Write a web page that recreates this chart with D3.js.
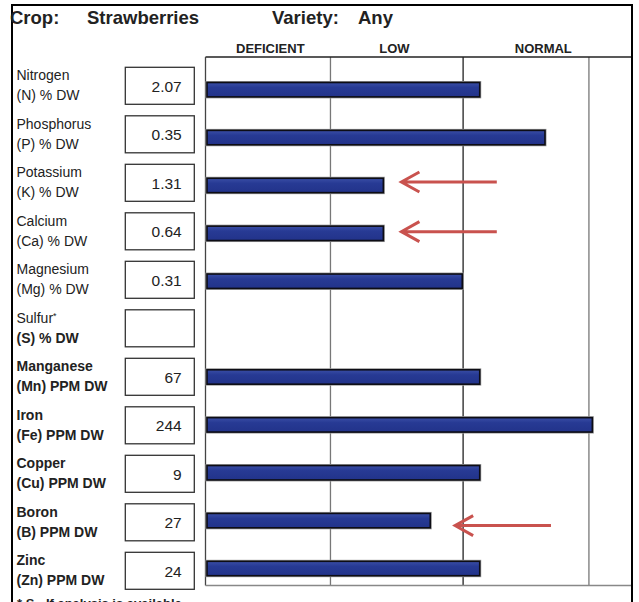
<!DOCTYPE html>
<html><head><meta charset="utf-8">
<script src="https://cdn.jsdelivr.net/npm/d3@7"></script>
<style>body{margin:0;background:#fff}svg{display:block;font-family:"Liberation Sans",Arial,sans-serif}</style>
</head><body><svg id="c" width="639" height="602"></svg>
<script>
const crop = "Strawberries";
const variety = "Any";
const elements = ["Nitrogen","Phosphorus","Potassium","Calcium","Magnesium","Sulfur*","Manganese","Iron","Copper","Boron","Zinc"];
const units = ["(N) % DW","(P) % DW","(K) % DW","(Ca) % DW","(Mg) % DW","(S) % DW","(Mn) PPM DW","(Fe) PPM DW","(Cu) PPM DW","(B) PPM DW","(Zn) PPM DW"];
const values = ["2.07","0.35","1.31","0.64","0.31","","67","244","9","27","24"];
const indexValues = [64.3,79.6,41.7,41.7,60.2,null,64.3,90.7,64.3,52.7,64.3];
const zones = ["DEFICIENT","LOW","NORMAL"];
const zoneCenters = [15.2,44.3,79.2];
const gridValues = [29.3,60.4,89.9];
const arrowRows = ["Potassium","Calcium","Boron"];
const arrowTip = [45.7,45.7,58.3];
const arrowTail = [68.3,68.3,81.0];
const arrowDy = [-3.5,-1.7,5];
const footnote = "* S - If analysis is available";

const svg = d3.select("#c");
const L = {left:12,right:632,top:5,bottom:602,plotL:205.5,plotT:57,plotB:585.5};
const x = d3.scaleLinear().domain([0,100]).range([L.plotL, L.right]);
const yBar = d3.scalePoint().domain(elements).range([89.7, 568.5]);
const yBox = d3.scalePoint().domain(elements).range([67.3, 552.3]);
const boxL = 125.3, boxW = 69, boxH = 37;

svg.append("rect").attr("width",639).attr("height",602).attr("fill","#fff");

// grid lines
svg.append("g").selectAll("line").data(gridValues).join("line")
  .attr("x1",d=>x(d)).attr("x2",d=>x(d)).attr("y1",L.plotT).attr("y2",L.plotB)
  .attr("stroke",(d,i)=>i===1?"#222":"#777").attr("stroke-width",1.3);
// plot frame
svg.append("line").attr("x1",L.plotL).attr("x2",L.right).attr("y1",L.plotT).attr("y2",L.plotT).attr("stroke","#222").attr("stroke-width",1.3);
svg.append("line").attr("x1",L.plotL).attr("x2",L.plotL).attr("y1",L.plotT).attr("y2",L.plotB).attr("stroke","#444").attr("stroke-width",1.3);
svg.append("line").attr("x1",L.plotL).attr("x2",L.right).attr("y1",L.plotB).attr("y2",L.plotB).attr("stroke","#888").attr("stroke-width",1.3);

// outer frame
svg.append("path").attr("d",`M${L.left},${L.bottom}V${L.top}H${L.right}V${L.bottom}`)
  .attr("fill","none").attr("stroke","#000").attr("stroke-width",2);

// title
const title = svg.append("g").attr("font-size",18.5).attr("font-weight","bold").attr("fill","#222");
title.append("text").attr("x",10).attr("y",24).text("Crop:");
title.append("text").attr("x",87).attr("y",24).text(crop);
title.append("text").attr("x",272).attr("y",24).text("Variety:");
title.append("text").attr("x",358).attr("y",24).text(variety);

// zone headers
svg.append("g").selectAll("text").data(zones).join("text")
  .attr("x",(d,i)=>x(zoneCenters[i])).attr("y",53).attr("text-anchor","middle")
  .attr("font-size",13).attr("font-weight","bold").attr("fill","#222").text(d=>d);

// gradient for bars
const grad = svg.append("defs").append("linearGradient").attr("id","bg").attr("x1",0).attr("x2",0).attr("y1",0).attr("y2",1);
grad.append("stop").attr("offset","0%").attr("stop-color","#3a4ea6");
grad.append("stop").attr("offset","35%").attr("stop-color","#273a94");
grad.append("stop").attr("offset","100%").attr("stop-color","#22338a");

// row labels
const rows = svg.append("g").selectAll("g").data(elements).join("g");
const l1 = rows.append("text").attr("x",16.5).attr("y",d=>yBox(d)+12.7)
  .attr("font-size",14).attr("fill","#222")
  .attr("font-weight",(d,i)=>i>=6?"bold":"normal");
l1.append("tspan").text(d=>d.replace("*",""));
l1.filter(d=>d.includes("*")).append("tspan").attr("font-size",9).attr("dy",-4).text("*");
rows.append("text").attr("x",16.5).attr("y",d=>yBox(d)+32.7)
  .attr("font-size",14).attr("fill","#222")
  .attr("font-weight",(d,i)=>i>=5?"bold":"normal").text((d,i)=>units[i]);
rows.append("rect").attr("x",boxL).attr("y",d=>yBox(d)).attr("width",boxW).attr("height",boxH)
  .attr("fill","#fff").attr("stroke","#333").attr("stroke-width",1.3);
rows.append("text").attr("x",boxL+boxW-12.6).attr("y",d=>yBox(d)+24.5)
  .attr("text-anchor","end").attr("font-size",15.5).attr("fill","#222").text((d,i)=>values[i]);

// bars
const barData = elements.map((e,i)=>({e,v:indexValues[i]})).filter(d=>d.v!==null);
const bars = svg.append("g");
bars.selectAll("rect.sh").data(barData).join("rect").attr("class","sh")
  .attr("x",x(0)+1.5).attr("y",d=>yBar(d.e)-7.2).attr("width",d=>x(d.v)-x(0)-1.5).attr("height",14.4)
  .attr("fill","none").attr("stroke","#9a9a9a").attr("stroke-width",3);
bars.selectAll("rect.b").data(barData).join("rect").attr("class","b")
  .attr("x",x(0)+1.5).attr("y",d=>yBar(d.e)-7.2).attr("width",d=>x(d.v)-x(0)-1.5).attr("height",14.4)
  .attr("fill","url(#bg)").attr("stroke","#0d0d15").attr("stroke-width",1.6);

// arrows
const arrowData = arrowRows.map((r,i)=>({r,tip:arrowTip[i],tail:arrowTail[i],dy:arrowDy[i]}));
const ag = svg.append("g").attr("stroke","#c9524e").attr("stroke-width",3).attr("fill","none").attr("stroke-linecap","butt");
ag.selectAll("path").data(arrowData).join("path")
  .attr("d",d=>{const y=yBar(d.r)+d.dy, xt=x(d.tip), xl=x(d.tail);
    return `M${xl},${y}H${xt+2}M${xt+19},${y-10}L${xt+1},${y}L${xt+19},${y+10}`;});

// footnote (cut off at bottom, as in the source)
svg.append("text").attr("x",17).attr("y",608).attr("font-size",13).attr("font-weight","bold").attr("fill","#222").text(footnote);
</script></body></html>
